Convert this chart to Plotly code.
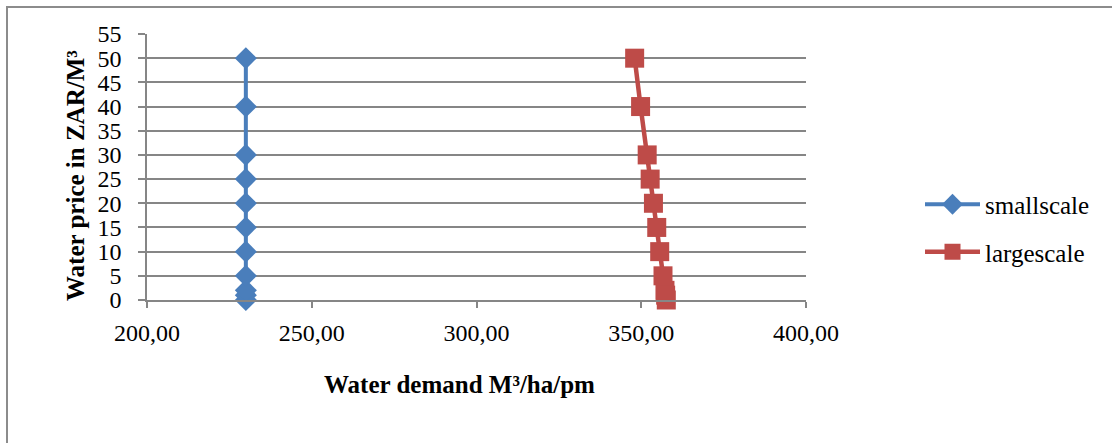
import plotly.graph_objects as go

# Water demand (M³/ha/pm) against water price (ZAR/M³)
price = [0, 1, 2, 5, 10, 15, 20, 25, 30, 40, 50]
smallscale_demand = [230.0, 230.0, 230.0, 230.0, 230.0, 230.0, 230.0, 230.0, 230.0, 230.0, 230.0]
largescale_demand = [357.6, 357.4, 357.2, 356.6, 355.6, 354.7, 353.7, 352.7, 351.8, 349.8, 348.0]

x_ticks = [200, 250, 300, 350, 400]
y_ticks = [0, 5, 10, 15, 20, 25, 30, 35, 40, 45, 50, 55]

BLUE = "#4A7EBB"
RED = "#BE4B48"
GRID = "#868686"
FONT = "Liberation Serif, Times New Roman, serif"

# plot area in pixels
L, R, T, B = 147, 806, 34, 300
PW, PH = R - L, B - T

fig = go.Figure()
fig.add_trace(go.Scatter(
    x=smallscale_demand, y=price, name="smallscale", legendgroup="a",
    mode="lines+markers",
    line=dict(color=BLUE, width=4),
    marker=dict(symbol="diamond", size=17, color=BLUE),
    cliponaxis=False,
))
fig.add_trace(go.Scatter(
    x=largescale_demand, y=price, name="largescale", legendgroup="b",
    mode="lines+markers",
    line=dict(color=RED, width=4.5),
    marker=dict(symbol="square", size=19, color=RED),
    cliponaxis=False,
))

fig.update_layout(
    width=1112, height=443,
    margin=dict(l=L, r=1112 - R, t=T, b=443 - B),
    paper_bgcolor="white", plot_bgcolor="white",
    separators=",.",
    font=dict(family=FONT, size=24, color="black"),
    showlegend=True,
    legend=dict(
        x=(920 - L) / PW, y=(B - 228) / PH, xanchor="left", yanchor="middle",
        font=dict(size=25), bgcolor="rgba(0,0,0,0)",
        tracegroupgap=12, traceorder="grouped", itemwidth=55,
    ),
    xaxis=dict(
        range=[200, 400], tickvals=x_ticks, tickformat=".2f",
        showgrid=False, zeroline=False,
        showline=True, linecolor=GRID, linewidth=1.5,
        ticks="outside", ticklen=6, tickcolor=GRID, tickwidth=1.5,
        tickfont=dict(size=24), ticklabelstandoff=4,
    ),
    yaxis=dict(
        range=[0, 55], tickvals=y_ticks,
        showgrid=True, gridcolor=GRID, gridwidth=1.5, zeroline=False,
        showline=True, linecolor=GRID, linewidth=1.5,
        ticks="outside", ticklen=7, tickcolor=GRID, tickwidth=1.5,
        tickfont=dict(size=24), ticklabelstandoff=12,
    ),
    annotations=[
        dict(text="<b>Water demand M³/ha/pm</b>", xref="paper", yref="paper",
             x=(459 - L) / PW, y=-(384 - B) / PH,
             xanchor="center", yanchor="middle", showarrow=False,
             font=dict(size=25)),
        dict(text="<b>Water price in ZAR/M³</b>", xref="paper", yref="paper",
             x=(75 - L) / PW, y=(B - 176) / PH, textangle=-90,
             xanchor="center", yanchor="middle", showarrow=False,
             font=dict(size=25)),
    ],
    shapes=[
        dict(type="rect", xref="paper", yref="paper",
             x0=(7 - L) / PW, x1=(1125 - L) / PW,
             y0=(B - 460) / PH, y1=(B - 7) / PH,
             line=dict(color="#8C8C8C", width=2), layer="below"),
    ],
)

fig.write_html("out.html")
